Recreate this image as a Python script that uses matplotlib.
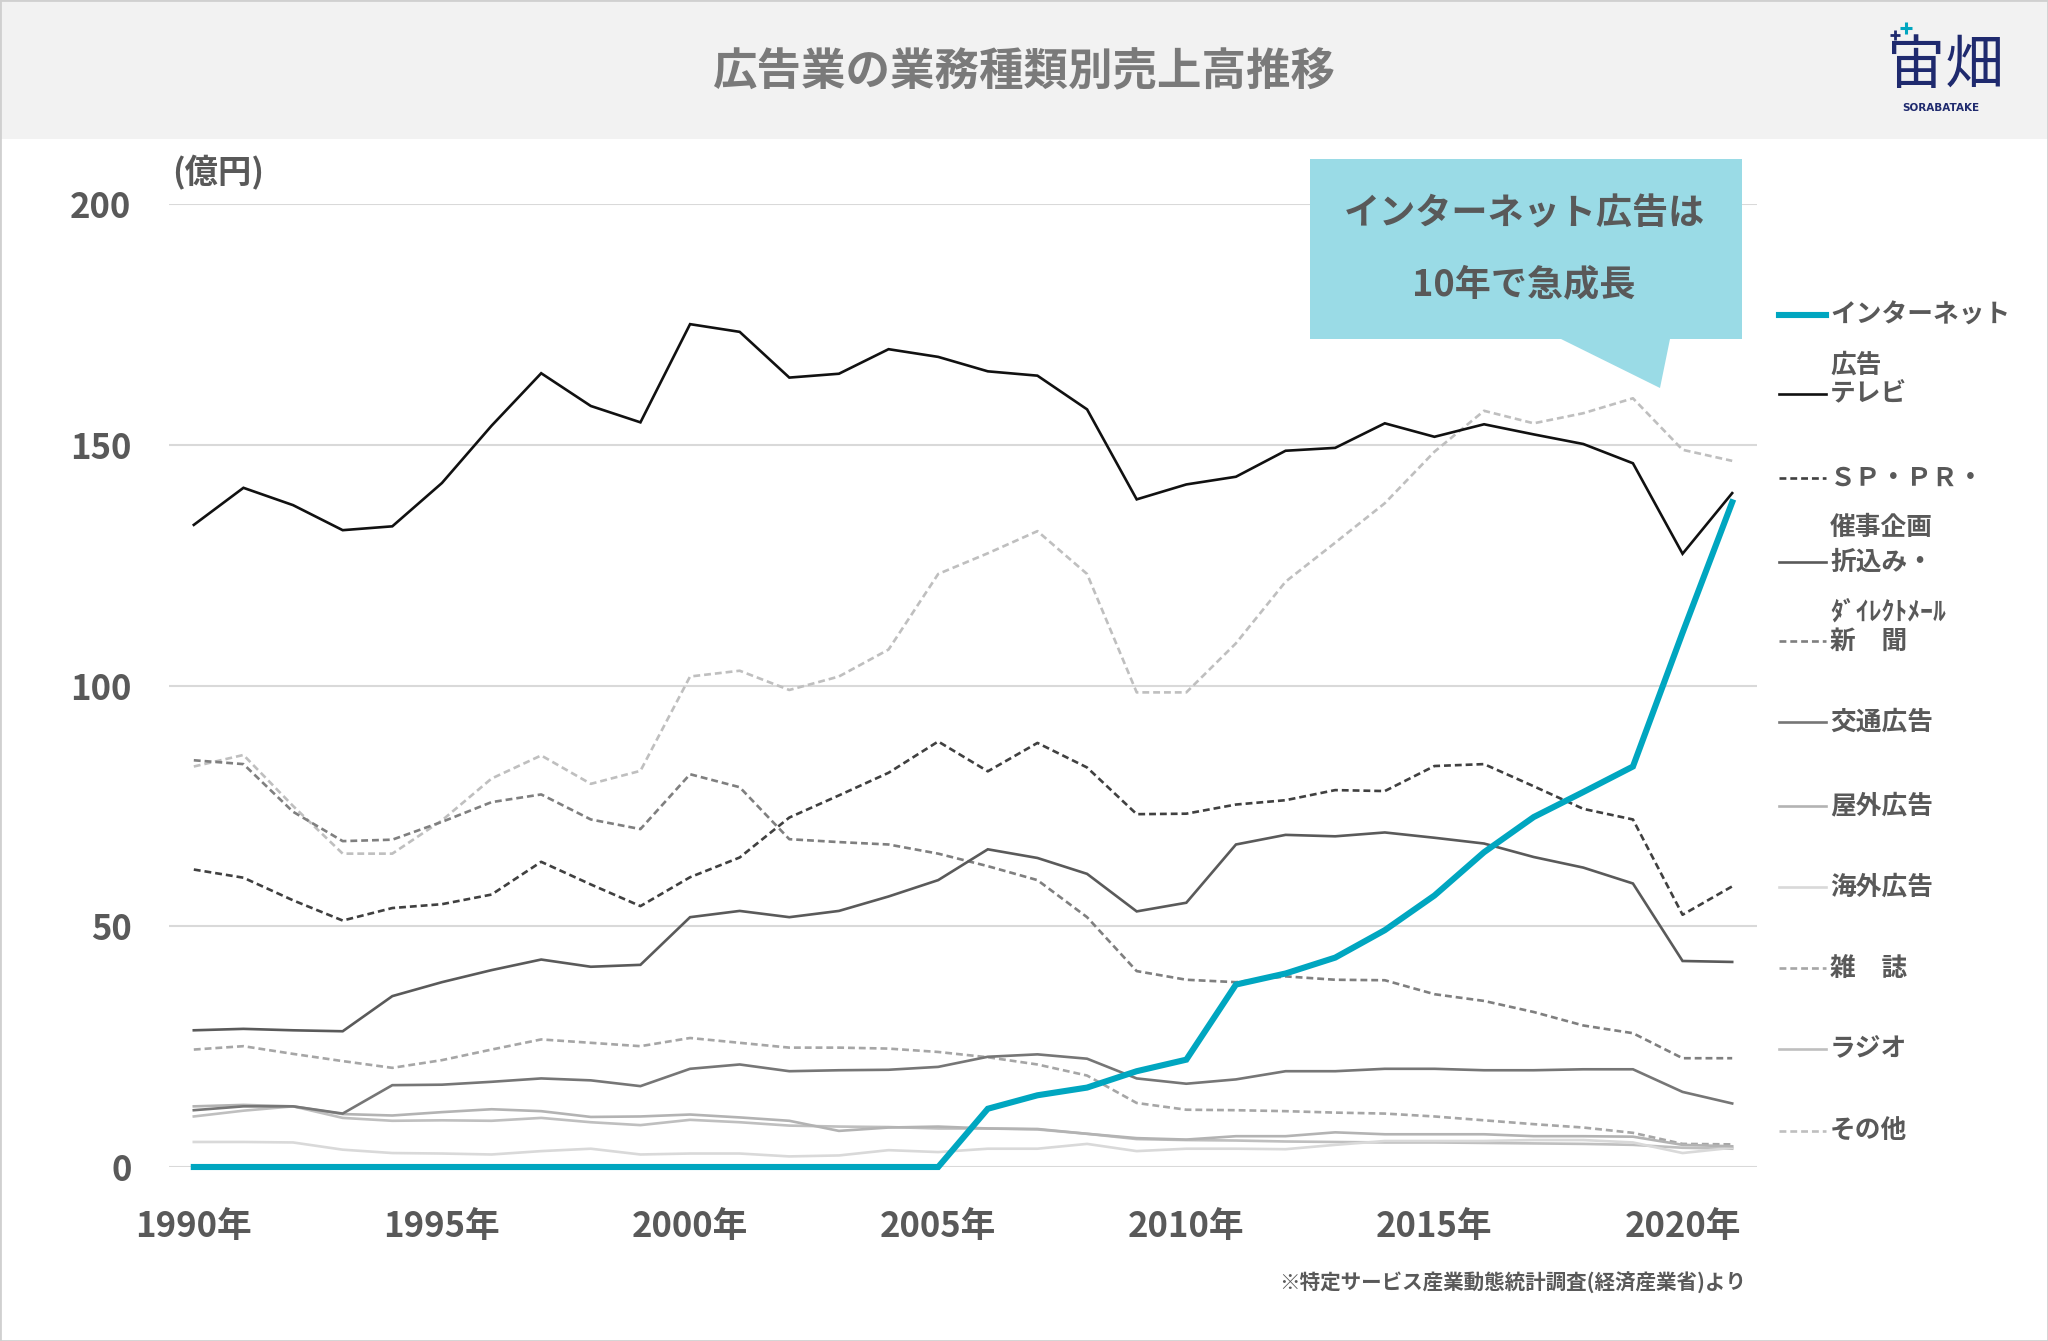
import matplotlib
matplotlib.use('Agg')
import matplotlib.pyplot as plt
from matplotlib.lines import Line2D
from matplotlib.patches import Rectangle, Polygon

plt.rcParams['font.family'] = ['Noto Sans CJK JP', 'DejaVu Sans']
plt.rcParams['font.weight'] = 'bold'

# データ (1990年〜2021年)
years = list(range(1990, 2022))
internet = [0, 0, 0, 0, 0, 0, 0, 0, 0, 0, 0, 0, 0, 0, 0, 0,
            12.1, 14.9, 16.5, 19.9, 22.3, 37.9, 40.2, 43.5, 49.2, 56.4, 65.4, 72.7, 77.9, 83.2, 111.0, 138.1]
tv = [133.4, 141.1, 137.5, 132.3, 133.1, 142.1, 154.0, 164.9, 158.1, 154.7, 175.1, 173.5, 164.0, 164.8, 169.9, 168.3,
      165.3, 164.4, 157.4, 138.7, 141.8, 143.4, 148.8, 149.4, 154.5, 151.7, 154.3, 152.2, 150.2, 146.2, 127.4, 140.0]
sp_pr = [61.8, 60.1, 55.4, 51.2, 53.8, 54.6, 56.6, 63.4, 58.7, 54.2, 60.2, 64.3, 72.6, 77.2, 81.9, 88.4,
         82.2, 88.1, 83.0, 73.3, 73.4, 75.3, 76.2, 78.3, 78.1, 83.3, 83.7, 79.1, 74.4, 72.2, 52.4, 58.3]
orikomi = [28.4, 28.7, 28.4, 28.2, 35.5, 38.4, 40.9, 43.1, 41.6, 42.0, 51.9, 53.2, 51.9, 53.2, 56.2, 59.6,
           66.0, 64.2, 60.9, 53.1, 54.9, 67.0, 69.0, 68.7, 69.5, 68.4, 67.2, 64.4, 62.2, 58.9, 42.8, 42.6]
shinbun = [84.5, 83.7, 73.8, 67.7, 68.0, 71.7, 75.8, 77.4, 72.2, 70.2, 81.6, 78.9, 68.1, 67.5, 67.0, 65.1,
           62.5, 59.6, 51.9, 40.7, 38.9, 38.4, 39.6, 38.9, 38.8, 35.9, 34.5, 32.2, 29.4, 27.8, 22.6, 22.6]
koutsu = [11.8, 12.6, 12.6, 11.1, 17.0, 17.1, 17.7, 18.4, 18.0, 16.8, 20.4, 21.3, 19.9, 20.1, 20.2, 20.8,
          22.9, 23.4, 22.5, 18.4, 17.3, 18.2, 19.9, 19.9, 20.4, 20.4, 20.1, 20.1, 20.3, 20.3, 15.6, 13.2]
okugai = [12.6, 12.9, 12.6, 11.0, 10.7, 11.4, 12.0, 11.6, 10.4, 10.5, 10.9, 10.3, 9.6, 7.5, 8.2, 8.4,
          8.0, 7.9, 6.9, 6.0, 5.7, 6.4, 6.4, 7.2, 6.8, 6.8, 6.8, 6.4, 6.4, 6.3, 4.6, 4.3]
kaigai = [5.2, 5.2, 5.1, 3.6, 2.9, 2.8, 2.6, 3.3, 3.8, 2.6, 2.8, 2.8, 2.2, 2.4, 3.5, 3.1,
          3.8, 3.8, 4.8, 3.3, 3.8, 3.8, 3.7, 4.6, 5.4, 5.4, 5.4, 5.6, 5.6, 5.1, 2.9, 4.0]
zasshi = [24.4, 25.1, 23.5, 22.0, 20.6, 22.2, 24.4, 26.5, 25.8, 25.1, 26.8, 25.8, 24.8, 24.8, 24.6, 23.9,
          22.8, 21.3, 19.0, 13.3, 11.9, 11.8, 11.6, 11.3, 11.1, 10.5, 9.7, 8.9, 8.2, 7.1, 4.8, 4.7]
radio = [10.5, 11.7, 12.6, 10.2, 9.6, 9.7, 9.6, 10.2, 9.3, 8.7, 9.8, 9.3, 8.6, 8.4, 8.3, 8.0,
         8.0, 7.8, 6.9, 5.8, 5.6, 5.5, 5.3, 5.2, 5.1, 5.1, 5.0, 4.9, 4.8, 4.6, 4.0, 3.8]
sonota = [83.2, 85.6, 75.0, 65.1, 65.1, 72.0, 80.7, 85.5, 79.6, 82.3, 101.9, 103.1, 99.1, 101.9, 107.5, 123.2,
          127.5, 132.1, 123.2, 98.6, 98.6, 108.8, 121.6, 129.7, 137.9, 148.6, 157.1, 154.5, 156.6, 159.7, 149.0, 146.7]

# 凡例の表示 (1行目, 2行目)
legend_labels = [('インターネット', '広告'), ('テレビ', None), ('ＳＰ・ＰＲ・', '催事企画'),
                 ('折込み・', 'ﾀﾞｲﾚｸﾄﾒｰﾙ'), ('新　聞', None), ('交通広告', None), ('屋外広告', None),
                 ('海外広告', None), ('雑　誌', None), ('ラジオ', None), ('その他', None)]
series = [internet, tv, sp_pr, orikomi, shinbun, koutsu, okugai, kaigai, zasshi, radio, sonota]
# (色, 線幅, 破線か)
styles = [('#00a6c0', 4.4, False), ('#111111', 1.9, False), ('#404040', 1.9, True), ('#5a5a5a', 1.9, False),
          ('#7f7f7f', 1.9, True), ('#767676', 1.9, False), ('#b3b3b3', 1.9, False), ('#d9d9d9', 1.9, False),
          ('#a6a6a6', 1.9, True), ('#bfbfbf', 1.9, False), ('#bfbfbf', 1.9, True)]
xticks = [1990, 1995, 2000, 2005, 2010, 2015, 2020]
yticks = [0, 50, 100, 150, 200]

W, H = 2048, 1341


def fx(px):
    return px / W


def fy(py):
    return 1 - py / H


fig = plt.figure(figsize=(W / 100, H / 100), dpi=100)
fig.patch.set_facecolor('white')

# タイトル帯
fig.patches.append(Rectangle((0, fy(139)), 1, 139 / H, transform=fig.transFigure,
                             facecolor='#f2f2f2', edgecolor='none', zorder=0))
fig.text(0.5, fy(72), '広告業の業務種類別売上高推移', ha='center', va='center',
         fontsize=32, color='#7a7a7a')

# ロゴ
fig.text(fx(1945), fy(66), '宙畑', ha='center', va='center', fontsize=42, color='#1f2a6e', weight='normal')
fig.add_artist(Line2D([fx(1906)], [fy(28)], transform=fig.transFigure, marker='+', ms=9, mew=2.2,
                      color='#00a6c0'))
fig.add_artist(Line2D([fx(1895)], [fy(35)], transform=fig.transFigure, marker='+', ms=7, mew=2,
                      color='#1f2a6e'))
fig.text(fx(1941), fy(108), 'SORABATAKE', ha='center', va='center', fontsize=7.5, color='#1f2a6e',
         family='DejaVu Sans')

ax = fig.add_axes([fx(169), fy(1167), (1757 - 169) / W, (1167 - 204.3) / H])
for i in range(len(series) - 1, -1, -1):
    c, lw, dashed = styles[i]
    ln, = ax.plot(years, series[i], color=c, lw=lw, clip_on=False, zorder=3 + (10 if i == 0 else 0),
                  solid_joinstyle='miter')
    if dashed:
        ln.set_dashes((2.6, 1.5))

ax.set_xlim(1989.5, 2021.5)
ax.set_ylim(0, 200)
ax.set_xticks(xticks)
ax.set_xticklabels([f'{y}年' for y in xticks])
ax.set_yticks(yticks)
ax.tick_params(axis='x', length=0, pad=30, labelsize=25, labelcolor='#595959')
ax.tick_params(axis='y', length=0, pad=27, labelsize=25, labelcolor='#595959')
for s in ax.spines.values():
    s.set_visible(False)
ax.grid(axis='y', color='#d9d9d9', lw=1.5)
ax.set_axisbelow(True)

fig.text(fx(172), fy(173), '(億円)', ha='left', va='center', fontsize=24, color='#595959')

# 吹き出し
pts = [(1310, 159), (1742, 159), (1742, 339), (1670, 339), (1660, 388), (1561, 339), (1310, 339)]
fig.patches.append(Polygon([(fx(x), fy(y)) for x, y in pts], closed=True, transform=fig.transFigure,
                           facecolor='#9adbe6', edgecolor='none', zorder=5))
fig.text(fx(1524), fy(214), 'インターネット広告は', ha='center', va='center', fontsize=26,
         color='#595959', zorder=6)
fig.text(fx(1524), fy(285), '10年で急成長', ha='center', va='center', fontsize=26,
         color='#595959', zorder=6)

# 凡例
leg_y = [315, 394, 478, 562, 641, 722, 806, 887, 968, 1049, 1131]
for (l1, l2), (c, lw, dashed), y in zip(legend_labels, styles, leg_y):
    h = Line2D([fx(1779), fx(1826)], [fy(y), fy(y)], transform=fig.transFigure, color=c, lw=lw)
    if dashed:
        h.set_dashes((2.6, 1.5))
    fig.lines.append(h)
    fig.text(fx(1830), fy(y), l1, ha='left', va='center', fontsize=18.5, color='#595959')
    if l2:
        fig.text(fx(1830), fy(y + 50), l2, ha='left', va='center', fontsize=18.5, color='#595959')

fig.text(fx(1746), fy(1283), '※特定サービス産業動態統計調査(経済産業省)より', ha='right', va='center',
         fontsize=14.8, color='#595959')

# 外枠
fig.patches.append(Rectangle((0, 0), 1, 1, transform=fig.transFigure, fill=False,
                             edgecolor='#d0d0d0', lw=2, zorder=10))

fig.savefig('out.png', dpi=100)
